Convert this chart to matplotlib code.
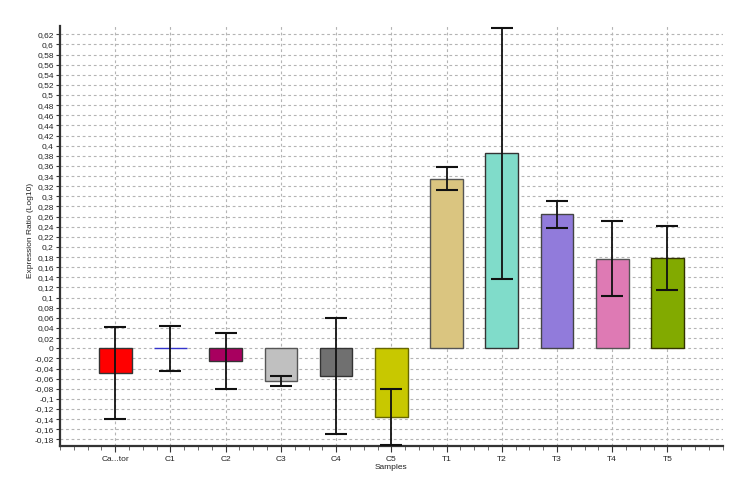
import matplotlib
matplotlib.use("Agg")
import matplotlib.pyplot as plt
from matplotlib.ticker import MultipleLocator, FuncFormatter
import numpy as np

plt.rcParams['font.family'] = ['Liberation Sans', 'DejaVu Sans']

categories = ["Ca...tor", "C1", "C2", "C3", "C4", "C5", "T1", "T2", "T3", "T4", "T5"]
values = [-0.049, 0.0, -0.0245, -0.065, -0.055, -0.136, 0.335, 0.385, 0.2645, 0.177, 0.178]
errors = [0.091, 0.044, 0.055, 0.0105, 0.115, 0.055, 0.023, 0.248, 0.027, 0.0745, 0.0625]
colors = ["#FF0000", "#3333CC", "#A8005F", "#C0C0C0", "#707070", "#C8C800",
          "#DAC580", "#80DCCA", "#917BDB", "#DE7AB4", "#82AA00"]
edges = ["#333333", "#3333CC", "#333333", "#555555", "#333333", "#666600",
         "#555555", "#333333", "#444444", "#555555", "#333300"]

fig = plt.figure(figsize=(7.33, 4.82), dpi=100)
ax = fig.add_axes([0.0819, 0.0747, 0.904, 0.871])

x = np.arange(len(categories))
ax.bar(x, values, width=0.59, color=colors, edgecolor=edges, linewidth=1.0, zorder=3)
ax.errorbar(x, values, yerr=errors, fmt='none', ecolor='#111111', elinewidth=1.3,
            capsize=7.8, capthick=1.5, zorder=4)

ax.set_xlim(-1, 11)
ax.set_ylim(-0.193, 0.636)
ax.set_xticks(x)
ax.set_xticklabels(categories)
ax.xaxis.set_minor_locator(MultipleLocator(0.25))
ax.yaxis.set_major_locator(MultipleLocator(0.02))

def fmt(v, pos):
    s = f"{v:.2f}".rstrip('0').rstrip('.')
    if s in ("-0", ""):
        s = "0"
    return s.replace('.', ',')
ax.yaxis.set_major_formatter(FuncFormatter(fmt))

ax.grid(True, which='major', axis='both', linestyle=(0, (2.5, 2.5)), color='#B4B4B4', linewidth=0.8, zorder=0)
ax.set_axisbelow(True)

for s in ['top', 'right']:
    ax.spines[s].set_visible(False)
for s in ['left', 'bottom']:
    ax.spines[s].set_linewidth(1.6)
    ax.spines[s].set_color('#333333')

ax.tick_params(axis='both', which='major', labelsize=6, length=4, width=0.8, colors='#333333', labelcolor='#222222')
ax.tick_params(axis='x', which='minor', length=3, width=0.6, colors='#555555')
ax.tick_params(axis='x', which='major', pad=3)
ax.tick_params(axis='y', which='major', length=3, pad=1.5)

ax.set_xlabel("Samples", fontsize=6, color='#222222', labelpad=1)
ax.set_ylabel("Expression Ratio (Log10)", fontsize=6, color='#222222')
ax.yaxis.set_label_coords(-0.040, 0.514)

fig.savefig("out.png", dpi=100)
